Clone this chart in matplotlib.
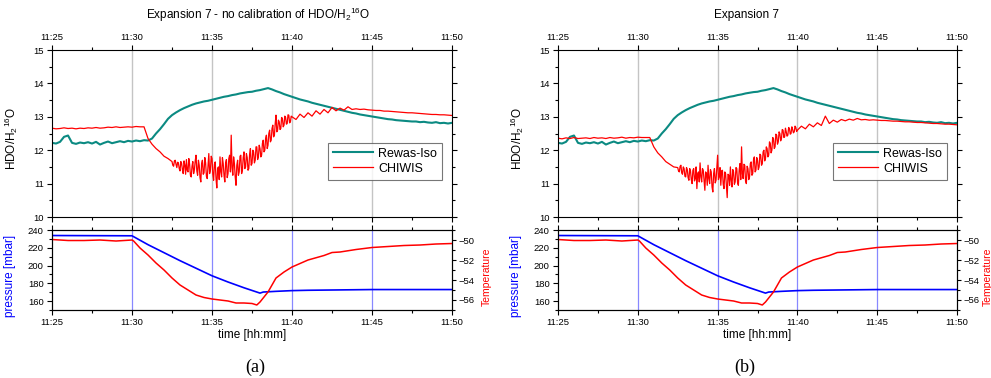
import numpy as np
import matplotlib
matplotlib.use("Agg")
import matplotlib.pyplot as plt
from matplotlib.ticker import MultipleLocator, FuncFormatter

plt.rcParams["font.family"] = ["Liberation Sans", "DejaVu Sans"]
plt.rcParams["mathtext.fontset"] = "custom"
plt.rcParams["mathtext.rm"] = "Liberation Sans"
plt.rcParams["mathtext.it"] = "Liberation Sans:italic"

# ── Datos (minutos desde 11:25) ───────────────────────────────────────────────
iso = [
    12.22, 12.20, 12.25, 12.40, 12.44, 12.22, 12.19, 12.23, 12.21, 12.24,
    12.20, 12.25, 12.17, 12.22, 12.26, 12.21, 12.24, 12.27, 12.24, 12.28,
    12.26, 12.29, 12.27, 12.30, 12.29, 12.35, 12.50, 12.63, 12.78, 12.94,
    13.05, 13.13, 13.20, 13.26, 13.31, 13.36, 13.40, 13.43, 13.46, 13.48,
    13.51, 13.54, 13.57, 13.60, 13.62, 13.65, 13.67, 13.70, 13.72, 13.74,
    13.75, 13.78, 13.80, 13.83, 13.86, 13.82, 13.77, 13.73, 13.68, 13.64,
    13.60, 13.56, 13.52, 13.49, 13.46, 13.42, 13.39, 13.36, 13.33, 13.30,
    13.27, 13.24, 13.21, 13.18, 13.15, 13.12, 13.10, 13.07, 13.05, 13.03,
    13.01, 12.99, 12.97, 12.95, 12.93, 12.92, 12.90, 12.89, 12.88, 12.87,
    12.86, 12.86, 12.84, 12.85, 12.83, 12.82, 12.84, 12.81, 12.82, 12.80,
    12.82,
]
t_iso = np.linspace(0, 25, len(iso))

# CHIWIS: 0–7.25 cada 0.25, 7.5–14.95 cada 0.05, 15–25 cada 0.25
t_chiwis = np.concatenate([np.arange(30) * 0.25, 7.5 + np.arange(150) * 0.05,
                           15 + np.arange(41) * 0.25])

chiwis_a = [
    12.66, 12.64, 12.65, 12.67, 12.65, 12.66, 12.64, 12.66, 12.65, 12.67,
    12.66, 12.68, 12.66, 12.67, 12.69, 12.68, 12.70, 12.68, 12.69, 12.70,
    12.69, 12.71, 12.70, 12.70, 12.35, 12.18, 12.05, 11.95, 11.82, 11.75,
    # ruido
    11.66, 11.55, 11.52, 11.68, 11.70, 11.58, 11.48, 11.64, 11.62, 11.45,
    11.38, 11.66, 11.60, 11.42, 11.30, 11.68, 11.55, 11.28, 11.72, 11.40,
    11.35, 11.75, 11.58, 11.25, 11.20, 11.52, 11.66, 11.30, 11.42, 11.68,
    11.85, 11.38, 11.25, 11.70, 11.55, 11.18, 11.05, 11.60, 11.70, 11.28,
    11.32, 11.78, 11.62, 11.22, 11.15, 11.55, 11.90, 11.30, 11.40, 11.82,
    11.75, 11.28, 11.10, 11.58, 11.65, 11.15, 10.87, 11.45, 11.50, 11.12,
    11.80, 11.35, 11.20, 11.78, 11.60, 11.25, 11.05, 11.62, 11.72, 11.18,
    11.30, 11.75, 11.85, 11.35, 12.45, 11.48, 11.25, 11.80, 11.60, 11.20,
    10.95, 11.55, 11.70, 11.25, 11.35, 11.82, 11.85, 11.30, 11.40, 11.78,
    11.95, 11.45, 11.50, 11.90, 11.78, 11.40, 11.45, 11.88, 12.05, 11.55,
    11.60, 12.00, 11.95, 11.62, 11.70, 12.10, 12.10, 11.72, 11.80, 12.15,
    12.05, 11.80, 11.85, 12.20, 12.30, 11.95, 12.00, 12.35, 12.45, 12.05,
    12.15, 12.50, 12.60, 12.25, 12.30, 12.65, 12.75, 12.40, 12.45, 12.80,
    13.05, 12.55, 12.60, 12.90, 12.85, 12.62, 12.65, 12.98, 12.95, 12.70,
    12.75, 13.02, 12.98, 12.78, 12.80, 13.06, 13.05, 12.82, 12.85, 13.02,
    # después
    13.00, 12.92, 13.08, 12.98, 13.12, 13.02, 13.18, 13.08, 13.22, 13.12,
    13.28, 13.18, 13.26, 13.20, 13.30, 13.22, 13.24, 13.22, 13.23, 13.21,
    13.20, 13.19, 13.19, 13.17, 13.17, 13.16, 13.15, 13.14, 13.13, 13.12,
    13.12, 13.11, 13.10, 13.09, 13.08, 13.07, 13.07, 13.06, 13.06, 13.05,
    13.04,
]

chiwis_b = [
    12.36, 12.34, 12.37, 12.35, 12.38, 12.35, 12.36, 12.37, 12.35, 12.38,
    12.36, 12.37, 12.35, 12.38, 12.36, 12.37, 12.39, 12.36, 12.38, 12.37,
    12.39, 12.38, 12.38, 12.38, 12.10, 11.92, 11.80, 11.66, 11.58, 11.50,
    # ruido
    11.48, 11.38, 11.35, 11.52, 11.55, 11.32, 11.28, 11.50, 11.45, 11.22,
    11.20, 11.48, 11.42, 11.18, 11.10, 11.45, 11.38, 11.12, 11.00, 11.40,
    11.45, 11.08, 11.15, 11.50, 10.85, 11.30, 11.35, 11.05, 11.62, 11.20,
    11.05, 11.45, 11.40, 11.08, 10.80, 11.35, 11.30, 10.95, 11.55, 11.15,
    11.00, 11.42, 11.35, 10.90, 10.75, 11.30, 11.45, 11.02, 11.10, 11.50,
    11.85, 11.12, 11.20, 11.48, 10.95, 11.38, 11.40, 10.98, 10.85, 11.35,
    11.30, 10.92, 10.58, 11.28, 11.25, 10.95, 11.50, 11.10, 10.90, 11.42,
    11.35, 10.98, 11.05, 11.48, 11.45, 11.02, 10.95, 11.40, 11.60, 11.12,
    12.10, 11.30, 11.15, 11.58, 11.55, 11.08, 11.00, 11.52, 11.45, 11.12,
    11.20, 11.60, 11.65, 11.25, 11.30, 11.72, 11.80, 11.35, 11.40, 11.78,
    11.70, 11.42, 11.50, 11.88, 11.85, 11.55, 11.60, 11.95, 12.00, 11.68,
    11.75, 12.10, 12.05, 11.80, 11.85, 12.25, 12.20, 11.92, 12.00, 12.38,
    12.35, 12.05, 12.10, 12.48, 12.45, 12.18, 12.25, 12.55, 12.50, 12.28,
    12.35, 12.62, 12.60, 12.38, 12.40, 12.66, 12.55, 12.42, 12.45, 12.68,
    12.65, 12.48, 12.50, 12.70, 12.62, 12.52, 12.55, 12.72, 12.68, 12.56,
    # después
    12.60, 12.72, 12.64, 12.78, 12.70, 12.82, 12.74, 13.02, 12.80, 12.90,
    12.84, 12.92, 12.88, 12.93, 12.90, 12.95, 12.91, 12.92, 12.90, 12.91,
    12.90, 12.89, 12.89, 12.88, 12.87, 12.87, 12.86, 12.85, 12.85, 12.84,
    12.83, 12.83, 12.82, 12.81, 12.80, 12.80, 12.79, 12.78, 12.78, 12.77,
    12.76,
]

t_pres = [0, 5, 6, 7, 8, 9, 10, 11, 12, 13, 13.2, 14, 15, 16, 18, 20, 22, 25]
pres = [233.8, 233.5, 223.5, 214.5, 205.5, 197.0, 188.5, 181.5, 175.0, 169.0,
        170.2, 171.0, 171.8, 172.2, 172.6, 173.0, 173.0, 173.0]

t_temp = [0, 1, 2, 3, 4, 5, 5.1, 5.5, 6, 6.5, 7, 7.5, 8, 8.5, 9, 9.5, 10,
          10.5, 11, 11.5, 12, 12.5, 12.8, 13.0, 13.5, 14, 14.5, 15, 15.5, 16,
          17, 17.5, 18, 19, 20, 21, 22, 23, 24, 25]
temp = [-49.95, -50.05, -50.05, -50.0, -50.1, -50.0, -50.1, -50.8, -51.5,
        -52.3, -53.0, -53.8, -54.5, -55.0, -55.5, -55.75, -55.9, -56.0,
        -56.1, -56.3, -56.3, -56.35, -56.5, -56.2, -55.2, -53.8, -53.2,
        -52.7, -52.35, -52.0, -51.55, -51.25, -51.2, -50.95, -50.75, -50.65,
        -50.55, -50.5, -50.4, -50.35]

TEAL = "#0b8a82"
FS_TICK = 6.8
HHMM = FuncFormatter(lambda x, pos: f"11:{25 + int(round(x)):02d}")


def estilo_x(ax):
    ax.set_xlim(0, 25)
    ax.xaxis.set_major_locator(MultipleLocator(5))
    ax.xaxis.set_minor_locator(MultipleLocator(2.5))
    ax.xaxis.set_major_formatter(HHMM)
    ax.tick_params(which="both", direction="out", labelsize=FS_TICK,
                   width=0.8, pad=2.5)
    ax.tick_params(which="major", length=3.5)
    ax.tick_params(which="minor", length=2)
    for s in ax.spines.values():
        s.set_linewidth(0.8)


def panel(left, w, red, title, title_x, caption, caption_x, temp_x):
    ax = fig.add_axes([left, 0.4259, w, 0.4418])
    estilo_x(ax)
    ax.set_ylim(10, 15)
    ax.yaxis.set_major_locator(MultipleLocator(1))
    ax.yaxis.set_minor_locator(MultipleLocator(0.5))
    ax.tick_params(which="both", top=True, right=True, labeltop=True,
                   labelbottom=False)
    for x in [5, 10, 15, 20]:
        ax.axvline(x, color="#c4c4c4", lw=1.0, zorder=0)
    ax.plot(t_iso, iso, color=TEAL, lw=1.5, label="Rewas-Iso")
    ax.plot(t_chiwis, red, color="red", lw=0.9, label="CHIWIS")
    ax.set_ylabel("HDO/H$_2$$^{16}$O", fontsize=8.5)
    ax.yaxis.set_label_coords(-0.08, 0.47)
    leg = ax.legend(loc="upper left", bbox_to_anchor=(0.69, 0.445),
                    fontsize=9, frameon=True, fancybox=False,
                    handlelength=3.2, borderpad=0.4, labelspacing=0.25,
                    handletextpad=0.4, borderaxespad=0)
    leg.get_frame().set_edgecolor("#555555")
    leg.get_frame().set_linewidth(0.8)
    fig.text(title_x, 1 - 15 / 378, title, ha="center", va="center",
             fontsize=8.5)

    bx = fig.add_axes([left, 0.1799, w, 0.2116])
    estilo_x(bx)
    bx.set_ylim(150, 240)
    bx.yaxis.set_major_locator(MultipleLocator(20))
    bx.yaxis.set_minor_locator(MultipleLocator(10))
    bx.tick_params(which="both", top=True)
    for x in [5, 10, 15, 20]:
        bx.axvline(x, color="#8888ff", lw=0.9, zorder=0)
    bx.plot(t_pres, pres, color="blue", lw=1.2)
    bx.set_ylabel("pressure [mbar]", color="blue", fontsize=8.5)
    bx.yaxis.set_label_coords(-0.09, 0.42)
    bx.set_xlabel("time [hh:mm]", fontsize=8.5, labelpad=1)

    tx = bx.twinx()
    tx.set_ylim(-57, -49)
    tx.yaxis.set_major_locator(MultipleLocator(2))
    tx.yaxis.set_minor_locator(MultipleLocator(1))
    tx.tick_params(which="both", direction="out", labelsize=FS_TICK,
                   width=0.8, pad=1.5)
    tx.tick_params(which="major", length=3)
    tx.tick_params(which="minor", length=2)
    tx.plot(t_temp, temp, color="red", lw=1.1)
    tx.set_ylabel("Temperature", color="red", fontsize=7.5)
    tx.yaxis.set_label_coords(temp_x, 0.42)

    fig.text(caption_x, 1 - 367 / 378, caption, ha="center", va="center",
             fontsize=13, family="Liberation Serif")


fig = plt.figure(figsize=(9.91, 3.78), dpi=100)
panel(0.0525, 0.4036, chiwis_a,
      "Expansion 7 - no calibration of HDO/H$_2$$^{16}$O",
      258 / 991, "(a)", 255 / 991, 1.075)
panel(0.5631, 0.4026, chiwis_b, "Expansion 7", 746 / 991, "(b)", 745 / 991,
      1.064)

fig.savefig("out.png", dpi=100)
